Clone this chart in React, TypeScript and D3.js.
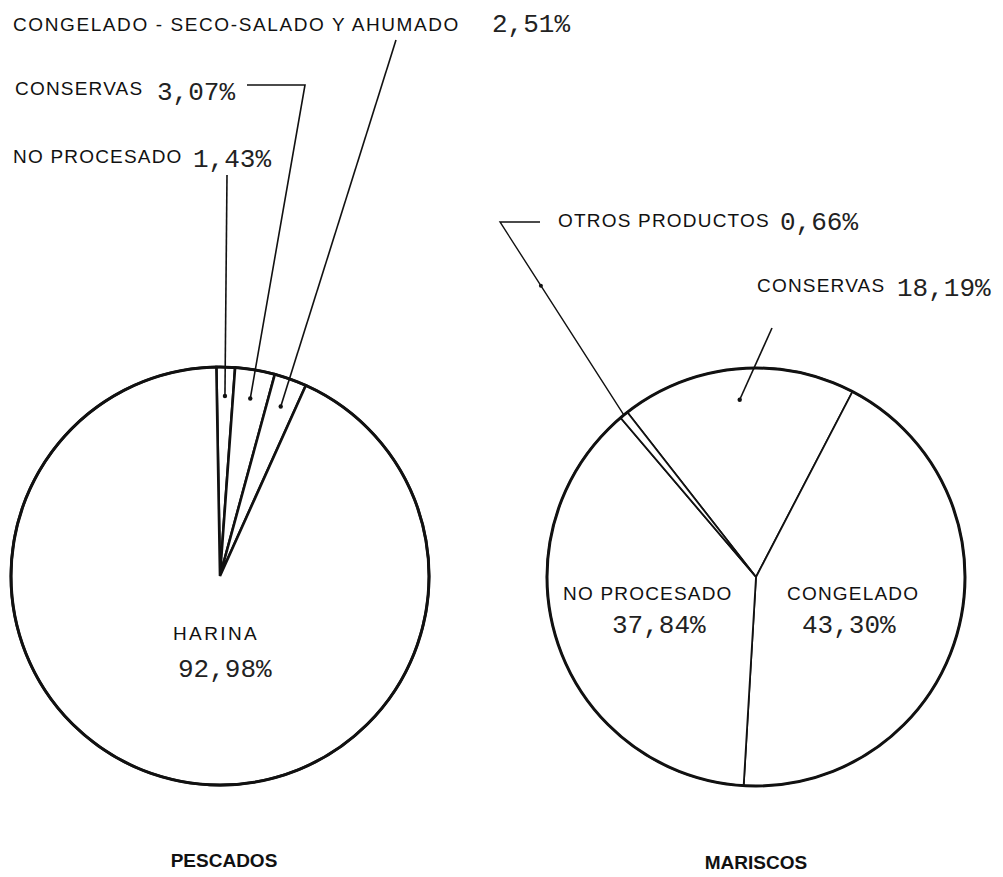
import React, { useRef, useEffect } from "react";
import * as d3 from "d3";

// PESCADOS
const fishCategories = [
  "NO PROCESADO",
  "CONSERVAS",
  "CONGELADO - SECO-SALADO Y AHUMADO",
  "HARINA",
];
const fishValues = [1.43, 3.07, 2.51, 92.98];
const fishPercents = ["1,43%", "3,07%", "2,51%", "92,98%"];

// MARISCOS
const shellCategories = ["CONSERVAS", "CONGELADO", "NO PROCESADO", "OTROS PRODUCTOS"];
const shellValues = [18.19, 43.3, 37.84, 0.66];
const shellPercents = ["18,19%", "43,30%", "37,84%", "0,66%"];

const chartTitles = ["PESCADOS", "MARISCOS"];

// layout (not data)
const WIDTH = 1003;
const HEIGHT = 877;
const RADIUS = 209;
const deg = Math.PI / 180;

type Pt = [number, number];
type LabelPos = {
  name: Pt;
  pct: Pt;
  spacing?: number;
  leader?: Pt[]; // points after the dot
  dotR?: number;
};

const fishLayout = {
  center: [220, 576] as Pt,
  start: -1 * deg,
  title: [224, 867] as Pt,
  labels: [
    { name: [13, 163], pct: [193, 167], leader: [[227, 175]], dotR: 180, spacing: 1.2 },
    { name: [15, 95], pct: [157, 100], leader: [[305, 85], [247, 85]], dotR: 180, spacing: 1.2 },
    { name: [13, 31], pct: [492, 32], leader: [[396, 40]], dotR: 180, spacing: 1.6 },
    { name: [173, 640], pct: [178, 677], spacing: 2.4 },
  ] as LabelPos[],
};

const shellLayout = {
  center: [756, 577] as Pt,
  start: -38 * deg,
  title: [756, 869] as Pt,
  labels: [
    { name: [757, 292], pct: [897, 296], leader: [[772, 328]], dotR: 178 },
    { name: [787, 600], pct: [802, 633] },
    { name: [563, 600], pct: [612, 633] },
    { name: [558, 227], pct: [780, 230], leader: [[500, 222], [540, 222]] },
  ] as LabelPos[],
};

const polar = (c: Pt, r: number, a: number): Pt => [
  c[0] + r * Math.sin(a),
  c[1] - r * Math.cos(a),
];

const App: React.FC = () => {
  const d3Container = useRef<HTMLDivElement>(null);

  useEffect(() => {
    d3.select(d3Container.current).selectChildren().remove();

    const svg = d3
      .select(d3Container.current)
      .append("svg")
      .attr("width", WIDTH)
      .attr("height", HEIGHT)
      .style("display", "block")
      .style("background", "#fff");

    const drawPie = (
      values: number[],
      names: string[],
      pcts: string[],
      layout: typeof fishLayout,
      sliceStroke: number,
      title: string,
      otrosIndex: number | null
    ) => {
      const c = layout.center;
      const pie = d3
        .pie<number>()
        .sort(null)
        .startAngle(layout.start)
        .endAngle(layout.start + 2 * Math.PI);
      const arcs = pie(values);
      const arc = d3.arc<d3.PieArcDatum<number>>().innerRadius(0).outerRadius(RADIUS);

      const g = svg.append("g").attr("transform", `translate(${c[0]},${c[1]})`);

      g.selectAll("path.slice")
        .data(arcs)
        .join("path")
        .attr("class", "slice")
        .attr("d", arc)
        .attr("fill", "#fff")
        .attr("stroke", "#111")
        .attr("stroke-width", sliceStroke)
        .attr("stroke-linejoin", "miter");

      g.append("circle")
        .attr("r", RADIUS)
        .attr("fill", "none")
        .attr("stroke", "#111")
        .attr("stroke-width", 3);

      arcs.forEach((a, i) => {
        const lp = layout.labels[i];
        const mid = (a.startAngle + a.endAngle) / 2;

        if (i === otrosIndex && lp.leader) {
          // leader from the sliver out to the label, with a dot on the way
          const onCircle = polar(c, RADIUS, mid);
          const top = lp.leader[0];
          svg
            .append("path")
            .attr("d", d3.line()([onCircle, ...lp.leader]))
            .attr("fill", "none")
            .attr("stroke", "#111")
            .attr("stroke-width", 1.4);
          const dot: Pt = [
            top[0] + 0.33 * (onCircle[0] - top[0]),
            top[1] + 0.33 * (onCircle[1] - top[1]),
          ];
          svg.append("circle").attr("cx", dot[0]).attr("cy", dot[1]).attr("r", 2).attr("fill", "#111");
        } else if (lp.leader && lp.dotR) {
          const dot = polar(c, lp.dotR, mid);
          svg
            .append("path")
            .attr("d", d3.line()([dot, ...lp.leader]))
            .attr("fill", "none")
            .attr("stroke", "#111")
            .attr("stroke-width", 1.6);
          svg.append("circle").attr("cx", dot[0]).attr("cy", dot[1]).attr("r", 2.2).attr("fill", "#111");
        }

        svg
          .append("text")
          .attr("x", lp.name[0])
          .attr("y", lp.name[1])
          .attr("font-family", "'Liberation Sans', Arial, sans-serif")
          .attr("font-size", 19)
          .attr("letter-spacing", lp.spacing ?? 1.2)
          .attr("fill", "#111")
          .text(names[i]);

        svg
          .append("text")
          .attr("x", lp.pct[0])
          .attr("y", lp.pct[1])
          .attr("font-family", "'Liberation Mono', 'Courier New', monospace")
          .attr("font-size", 26)
          .attr("fill", "#222")
          .text(pcts[i]);
      });

      svg
        .append("text")
        .attr("x", layout.title[0])
        .attr("y", layout.title[1])
        .attr("text-anchor", "middle")
        .attr("font-family", "'Liberation Sans', Arial, sans-serif")
        .attr("font-weight", "bold")
        .attr("font-size", 19)
        .attr("fill", "#111")
        .text(title);
    };

    drawPie(fishValues, fishCategories, fishPercents, fishLayout, 2.6, chartTitles[0], null);
    drawPie(shellValues, shellCategories, shellPercents, shellLayout, 1.8, chartTitles[1], 3);
  }, []);

  return (
    <div style={{ position: "absolute", left: 0, top: 0 }}>
      <div ref={d3Container} />
    </div>
  );
};

export default App;
